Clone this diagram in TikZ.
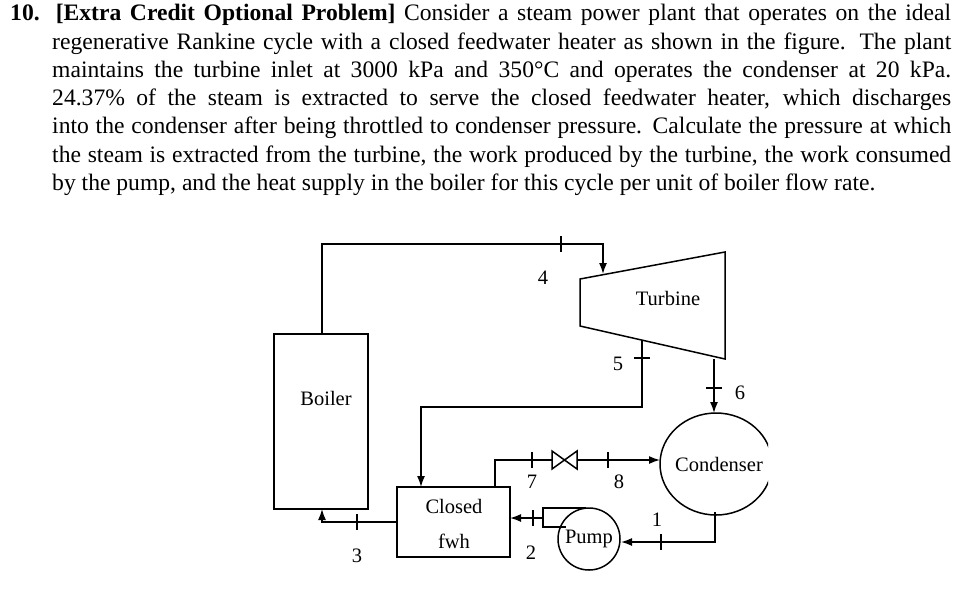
\documentclass[tikz,border=0pt]{standalone}
\usepackage{fontspec}
\setmainfont{Liberation Serif}
\usetikzlibrary{arrows.meta}
\begin{document}
\begin{tikzpicture}[x=1pt,y=-1pt,
  ln/.style={line width=1.5pt},
  ar/.style={ln,-{Latex[length=11pt,width=8pt]}},
  lbl/.style={font=\fontsize{20.5}{22}\selectfont,inner sep=0pt},
  tl/.style={anchor=west,inner sep=0pt,font=\fontsize{23.6}{26}\selectfont}]
\useasboundingbox (0,0) rectangle (979,595);
% text
\node[tl] (t1) at (10,15) {\makebox[941pt][s]{\textbf{10. [Extra Credit Optional Problem]} Consider a steam power plant that operates on the ideal}};
\node[tl] (t2) at (52,44) {\makebox[899pt][s]{regenerative Rankine cycle with a closed feedwater heater as shown in the figure. The plant}};
\node[tl] (t3) at (52,72) {\makebox[899pt][s]{maintains the turbine inlet at 3000 kPa and 350°C and operates the condenser at 20 kPa.}};
\node[tl] (t4) at (52,100) {\makebox[899pt][s]{24.37\% of the steam is extracted to serve the closed feedwater heater, which discharges}};
\node[tl] (t5) at (52,128) {\makebox[899pt][s]{into the condenser after being throttled to condenser pressure. Calculate the pressure at which}};
\node[tl] (t6) at (52,157) {\makebox[899pt][s]{the steam is extracted from the turbine, the work produced by the turbine, the work consumed}};
\node[tl] (t7) at (52,185) {by the pump, and the heat supply in the boiler for this cycle per unit of boiler flow rate.};
% components
\draw[ln] (274,334) rectangle (368,509);
\node[lbl] (boiler) at (326,398) {Boiler};
\draw[ln] (580,279) -- (725,252) -- (725,359) -- (580,326) -- cycle;
\node[lbl] (turb) at (668,298) {Turbine};
\draw[ln] (397,487) rectangle (510,557);
\node[lbl] (cl) at (454,506) {Closed};
\node[lbl] (fwh) at (454,541) {fwh};
\begin{scope}
\clip (640,400) rectangle (768,530);
\draw[ln] (716,464) ellipse [x radius=56, y radius=51];
\end{scope}
\node[lbl] (cond) at (719,464) {Condenser};
\draw[ln] (589,539) circle (31);
\node[lbl] (pump) at (589,539) {Pump};
% lines
\draw[ar] (322,334) -- (322,244) -- (603,244) -- (603,274);
\draw[ln] (561,236) -- (561,252);
\node[lbl] (n4) at (543,278) {4};
\draw[ar] (642,340) -- (642,407) -- (421,407) -- (421,487);
\draw[ln] (634,358) -- (650,358);
\node[lbl] (n5) at (618,364) {5};
\draw[ar] (714,359) -- (714,413);
\draw[ln] (706,388) -- (722,388);
\node[lbl] (n6) at (740,393) {6};
\draw[ln] (495,487) -- (495,460) -- (552,460);
\draw[ln] (552,451) -- (577,469) -- (577,451) -- (552,469) -- cycle;
\draw[ar] (577,460) -- (660,460);
\draw[ln] (532,452) -- (532,468);
\draw[ln] (608,452) -- (608,468);
\node[lbl] (n7) at (532,482) {7};
\node[lbl] (n8) at (619,482) {8};
\draw[ar] (715,515) -- (715,542) -- (621,542);
\draw[ln] (715,512) -- (715,519);
\draw[ln] (661,534) -- (661,550);
\node[lbl] (n1) at (657,520) {1};
\draw[ln] (586,508) -- (543,508) -- (543,527) -- (566,527);
\draw[ar] (543,518) -- (510,518);
\draw[ln] (533,510) -- (533,526);
\node[lbl] (n2) at (531,553) {2};
\draw[ar] (397,522) -- (322,522) -- (322,509);
\draw[ln] (357,514) -- (357,530);
\node[lbl] (n3) at (357,556) {3};
\end{tikzpicture}
\end{document}
